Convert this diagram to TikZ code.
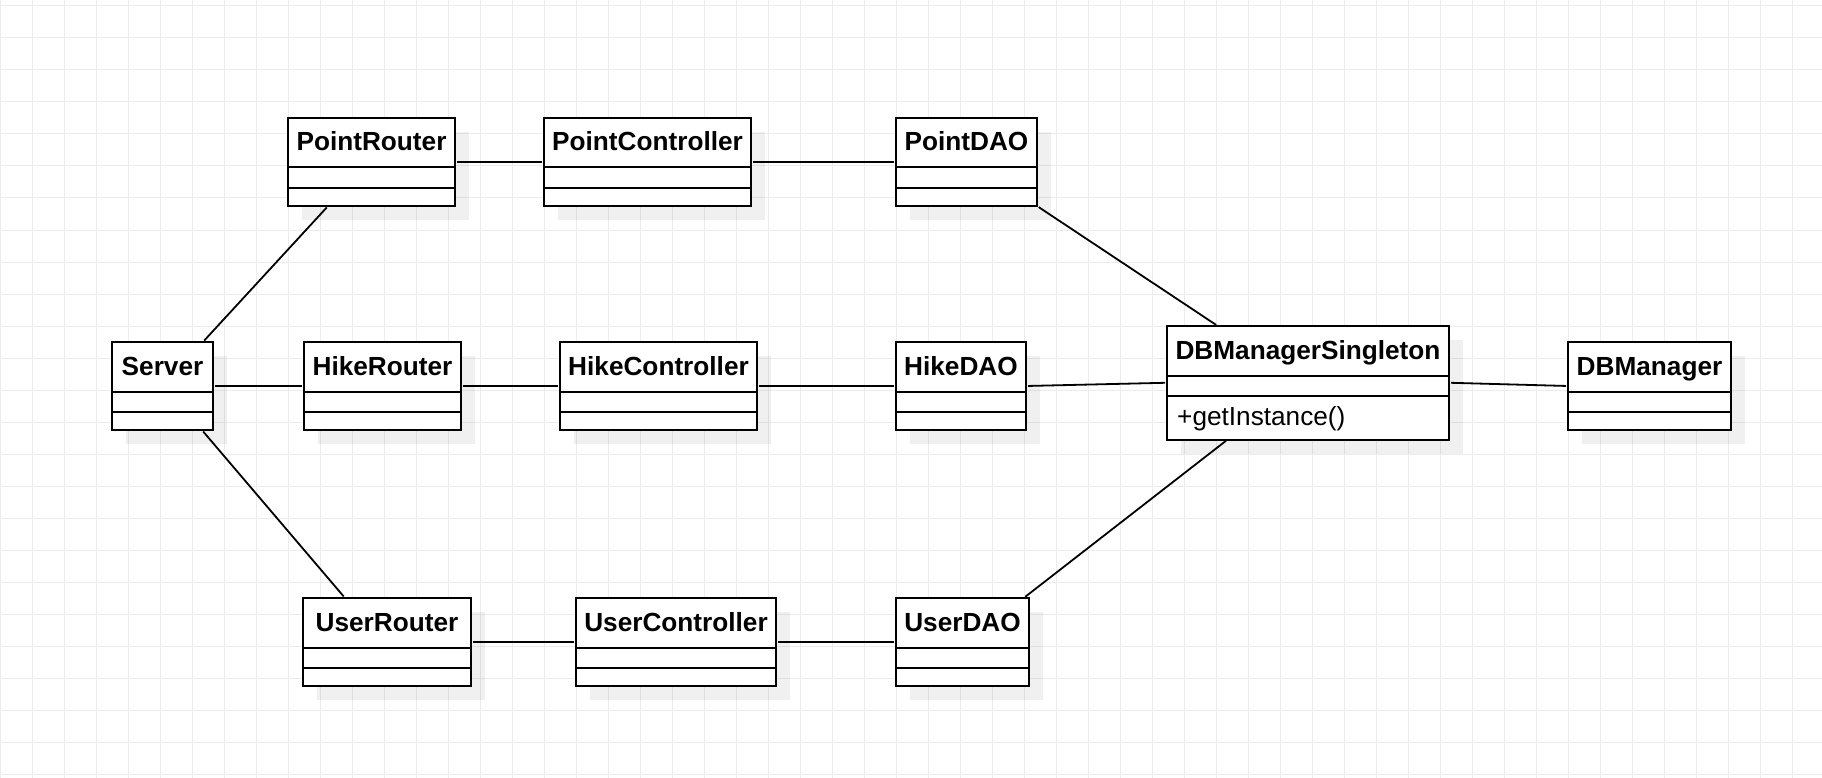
\documentclass[tikz,border=0pt]{standalone}
\usepackage{fontspec}
\setmainfont{Liberation Sans}
\usetikzlibrary{positioning}
\usetikzlibrary{calc}
\usetikzlibrary{shadows}

\definecolor{gridgray}{RGB}{236,236,236}

\tikzset{
  classbox/.style={draw, line width=2pt, fill=white, inner sep=0pt, outer sep=0pt,
    anchor=north west,
    drop shadow={shadow xshift=14pt, shadow yshift=-14pt, fill=black, opacity=0.06}},
  classline/.style={line width=2pt},
  classtitle/.style={anchor=base, inner sep=0pt, font=\fontsize{26.2}{30}\selectfont\bfseries},
  classtext/.style={anchor=base west, inner sep=0pt, font=\fontsize{26.2}{30}\selectfont},
  link/.style={line width=1.8pt, shorten <=2pt, shorten >=2pt},
  gridline/.style={gridgray, line width=1pt}
}

\begin{document}
\begin{tikzpicture}[x=1pt, y=-1pt]
  \useasboundingbox (0,0) rectangle (1822,778);
  \fill[white] (0,0) rectangle (1822,778);

  % background grid
  \foreach \gx in {0,32,...,1800} {
    \draw[gridline] (\gx,0) -- (\gx,778);
  }
  \foreach \gy in {6,38,...,778} {
    \draw[gridline] (0,\gy) -- (1822,\gy);
  }

  % class boxes: name/left/top/width/height/title
  \foreach \nm/\lx/\ty/\bw/\bh/\ttl in {
      pr/288/118/167/88/PointRouter,
      pc/544/118/207/88/PointController,
      pd/896/118/141/88/PointDAO,
      srv/112/342/101/88/Server,
      hr/304/342/157/88/HikeRouter,
      hc/560/342/197/88/HikeController,
      hd/896/342/130/88/HikeDAO,
      dbs/1167/326/282/113.5/DBManagerSingleton,
      dbm/1568/342/163/88/DBManager,
      ur/303/598/168/88/UserRouter,
      uc/576/598/200/88/UserController,
      ud/896/598/133/88/UserDAO} {
    \node[classbox, minimum width=\bw, minimum height=\bh] (\nm) at (\lx,\ty) {};
    \node[classtitle] (\nm-title) at ($(\nm.north)+(0,33)$) {\ttl};
    \draw[classline] ($(\nm.north west)+(0,49.5)$) -- ($(\nm.north east)+(0,49.5)$);
    \draw[classline] ($(\nm.north west)+(0,70)$) -- ($(\nm.north east)+(0,70)$);
  }

  % operation of the singleton
  \node[classtext] (dbs-op) at ($(dbs.north west)+(10,99)$) {+getInstance()};

  % top row
  \draw[link] (pr.east) -- (pc.west);
  \draw[link] (pc.east) -- (pd.west);
  % middle row
  \draw[link] (srv.east) -- (hr.west);
  \draw[link] (hr.east) -- (hc.west);
  \draw[link] (hc.east) -- (hd.west);
  \draw[link] (hd.east) -- (dbs.west);
  \draw[link] (dbs.east) -- (dbm.west);
  % bottom row
  \draw[link] (ur.east) -- (uc.west);
  \draw[link] (uc.east) -- (ud.west);

  % diagonals
  \draw[link] ($(srv.north west)!0.9!(srv.north east)$) -- ($(pr.south west)!0.24!(pr.south east)$);
  \draw[link] ($(srv.south west)!0.89!(srv.south east)$) -- ($(ur.north west)!0.25!(ur.north east)$);
  \draw[link] (pd.south east) -- ($(dbs.north west)!0.18!(dbs.north east)$);
  \draw[link] ($(dbs.south west)!0.215!(dbs.south east)$) -- ($(ud.north west)!0.96!(ud.north east)$);
\end{tikzpicture}
\end{document}
